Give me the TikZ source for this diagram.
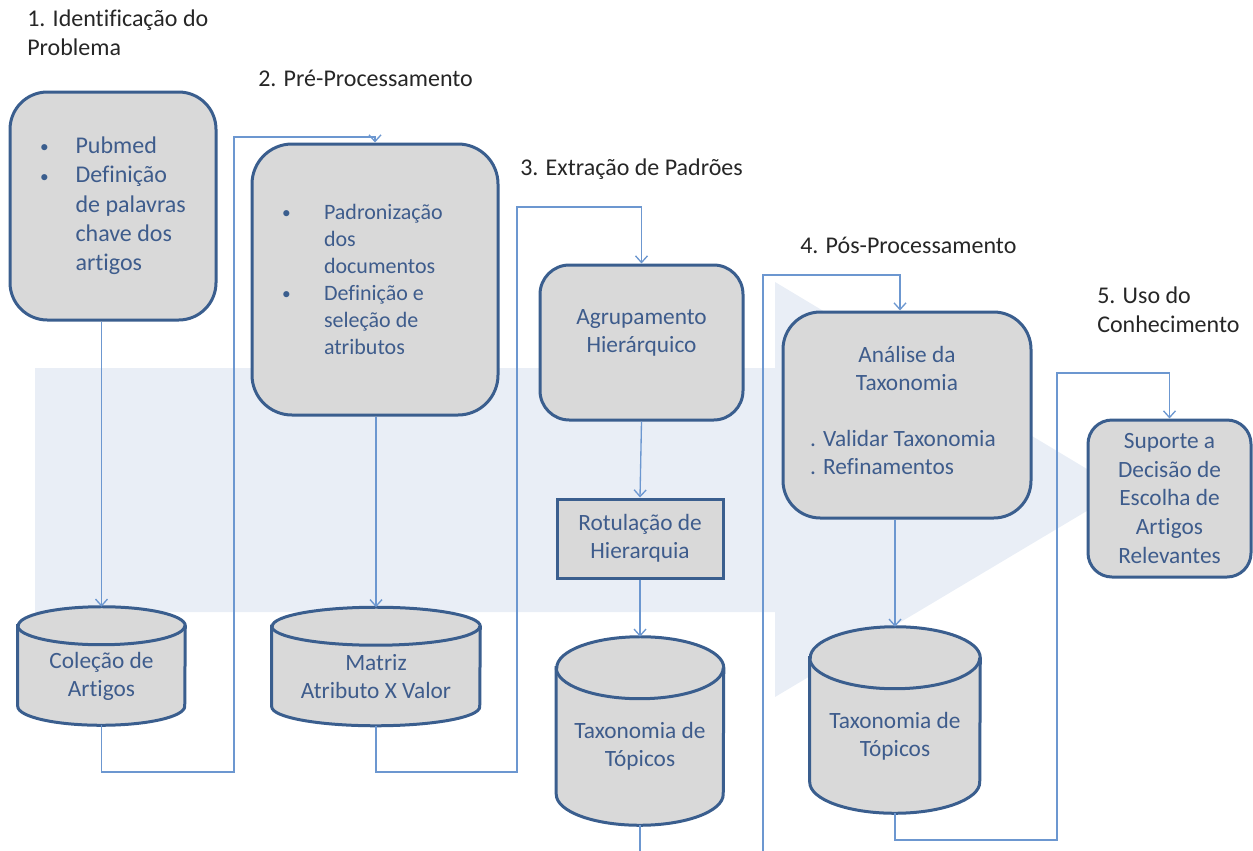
\documentclass[tikz,border=0pt]{standalone}
\usepackage{fontspec}
\setmainfont{Carlito}[Ligatures=NoCommon]
\usetikzlibrary{arrows.meta}
\definecolor{bord}{HTML}{3A5E8E}
\definecolor{boxfill}{HTML}{D9D9D9}
\definecolor{conn}{HTML}{6C97D0}
\definecolor{bgarrow}{HTML}{E9EEF6}
\definecolor{boxtxt}{HTML}{3E5C8C}
\definecolor{lbltxt}{HTML}{262626}
\newcommand\fA{\fontsize{18}{22}\selectfont}
\newcommand\fB{\fontsize{16.5}{20.25}\selectfont}
\newcommand\fN{\fontsize{17.5}{21}\selectfont}
\newcommand\fF{\fontsize{17.5}{21.5}\selectfont}
\newcommand\fL{\fontsize{18}{21.75}\selectfont}
\newcommand\bul[1]{\makebox[#1][l]{\raisebox{0.5pt}{\textcolor{bord}{\fontsize{13}{13}\selectfont •}}}}
\newcommand\drawcyl[3]{%
  \fill[boxfill] ([yshift=-#3]#1.north west) -- ([yshift=#3]#1.south west)
     arc[start angle=180,end angle=360,x radius=#2,y radius=#3]
     -- ([yshift=-#3]#1.north east)
     arc[start angle=0,end angle=180,x radius=#2,y radius=#3] -- cycle;
  \draw[draw=bord,line width=2.25pt] ([yshift=-#3]#1.north west) -- ([yshift=#3]#1.south west)
     arc[start angle=180,end angle=360,x radius=#2,y radius=#3]
     -- ([yshift=-#3]#1.north east)
     arc[start angle=0,end angle=180,x radius=#2,y radius=#3] -- cycle;
  \draw[draw=bord,line width=2.25pt] ([yshift=-#3]#1.north west)
     arc[start angle=180,end angle=360,x radius=#2,y radius=#3];}
\pgfdeclarelayer{back}
\pgfdeclarelayer{bg}
\pgfsetlayers{back,bg,main}
\tikzset{
  proc/.style={draw=bord, line width=2.25pt, fill=boxfill, rounded corners=#1,
    inner sep=0pt, text=boxtxt, align=center, font=\fN},
  cylnode/.style={inner sep=0pt},
  cyltxt/.style={text=boxtxt, align=center, font=\fN, inner sep=0pt},
  conn/.style={draw=conn, line width=1pt, -{Straight Barb[length=5pt,width=9pt]}},
  lbl/.style={text=lbltxt, align=left, font=\fL, inner sep=0pt},
}
\begin{document}
\begin{tikzpicture}[x=0.75pt,y=-0.75pt]
\useasboundingbox (0,0) rectangle (1253,850);
\clip (0,0) rectangle (1253,850);
\begin{pgfonlayer}{back}
\fill[bgarrow] (35,368) -- (775,368) -- (775,282) -- (1122,490) -- (775,697) -- (775,612) -- (35,612) -- cycle;
\end{pgfonlayer}

% stage labels
\node[lbl, anchor=north west] (l1) at (27,10) {1. Identificação do\\Problema};
\node[lbl, anchor=base west] (l2) at (258,86) {2. Pré-Processamento};
\node[lbl, anchor=base west] (l3) at (520,175) {3. Extração de Padrões};
\node[lbl, anchor=base west] (l4) at (800,253) {4. Pós-Processamento};
\node[lbl, anchor=north west] (l5) at (1097,287) {5. Uso do\\Conhecimento};

% process boxes
\node[proc=28pt, minimum width=154.5pt, minimum height=171pt, align=left, font=\fA] (bA) at (113,206)
  {\bul{26.5pt}Pubmed\\ \bul{26.5pt}Definição\\ \hspace*{26.5pt}de palavras\hspace*{13pt}\\ \hspace*{26.5pt}chave dos\\ \hspace*{26.5pt}artigos};
\node[proc=30pt, minimum width=184.5pt, minimum height=203.25pt, align=left, font=\fB] (bB) at (375,279.5)
  {\bul{31.5pt}Padronização\hspace*{19pt}\\ \hspace*{31.5pt}dos\\ \hspace*{31.5pt}documentos\\ \bul{31.5pt}Definição e\\ \hspace*{31.5pt}seleção de\\ \hspace*{31.5pt}atributos};
\node[proc=22pt, minimum width=152.25pt, minimum height=116.25pt,
  label={[cyltxt, yshift=7.5pt]center:{Agrupamento\\Hierárquico}}] (bC) at (641.5,342.5) {};
\node[proc=0pt, minimum width=124.5pt, minimum height=59.25pt] (bD) at (640,538.5) {Rotulação de\\Hierarquia};
\node[proc=28pt, minimum width=186pt, minimum height=154.5pt] (bE) at (907,415)
  {Análise da\\Taxonomia\\[21pt]\begin{tabular}[t]{@{}l@{}}. Validar Taxonomia\\. Refinamentos\end{tabular}\hspace*{6pt}};
\node[proc=18pt, minimum width=122.25pt, minimum height=117.75pt, font=\fF] (bF) at (1169.5,498.5)
  {Suporte a\\Decisão de\\Escolha de\\Artigos\\Relevantes};

% cylinders
\node[cylnode, minimum width=125.25pt, minimum height=88.5pt,
  label={[cyltxt, yshift=-7.5pt]center:{Coleção de\\Artigos}}] (cA) at (101.5,666) {};
\node[cylnode, minimum width=156pt, minimum height=88.5pt,
  label={[cyltxt, yshift=-7.5pt]center:{Matriz\\Atributo X Valor}}] (cB) at (376,666.5) {};
\node[cylnode, minimum width=125.25pt, minimum height=141pt,
  label={[cyltxt, yshift=-11.25pt]center:{Taxonomia de\\Tópicos}}] (cC) at (640,731) {};
\node[cylnode, minimum width=127.5pt, minimum height=139.5pt,
  label={[cyltxt, yshift=-12pt]center:{Taxonomia de\\Tópicos}}] (cD) at (895,720) {};
\begin{pgfonlayer}{bg}
\drawcyl{cA}{62.625pt}{14.25pt}
\drawcyl{cB}{78pt}{14.25pt}
\drawcyl{cC}{62.625pt}{23.25pt}
\drawcyl{cD}{63.75pt}{23.25pt}
\end{pgfonlayer}

% waypoints
\coordinate (w1) at (234,772);
\coordinate (w2) at (234,137);
\coordinate (w3) at (517,772);
\coordinate (w4) at (517,207);
\coordinate (w5) at (763,880);
\coordinate (w6) at (763,275);
\coordinate (w7) at (1057,840);
\coordinate (w8) at (1057,373);

% connectors
\draw[conn] (bA.south -| cA.north) -- (cA.north);
\draw[conn] (bB.south -| cB.north) -- (cB.north);
\draw[conn] (bC.south) -- (bD.north);
\draw[conn] (bD.south) -- (bD.south |- cC.north);
\draw[conn] (bE.south -| cD.north) -- (cD.north);
\draw[conn] (cA.south) |- (w1) -- (w2) -| (bB.north);
\draw[conn] (cB.south) |- (w3) -- (w4) -| (bC.north);
\draw[conn] (cC.south) |- (w5) -- (w6) -| ([xshift=-5.25pt]bE.north);
\draw[conn] (cD.south) |- (w7) -- (w8) -| (bF.north);
\end{tikzpicture}
\end{document}
